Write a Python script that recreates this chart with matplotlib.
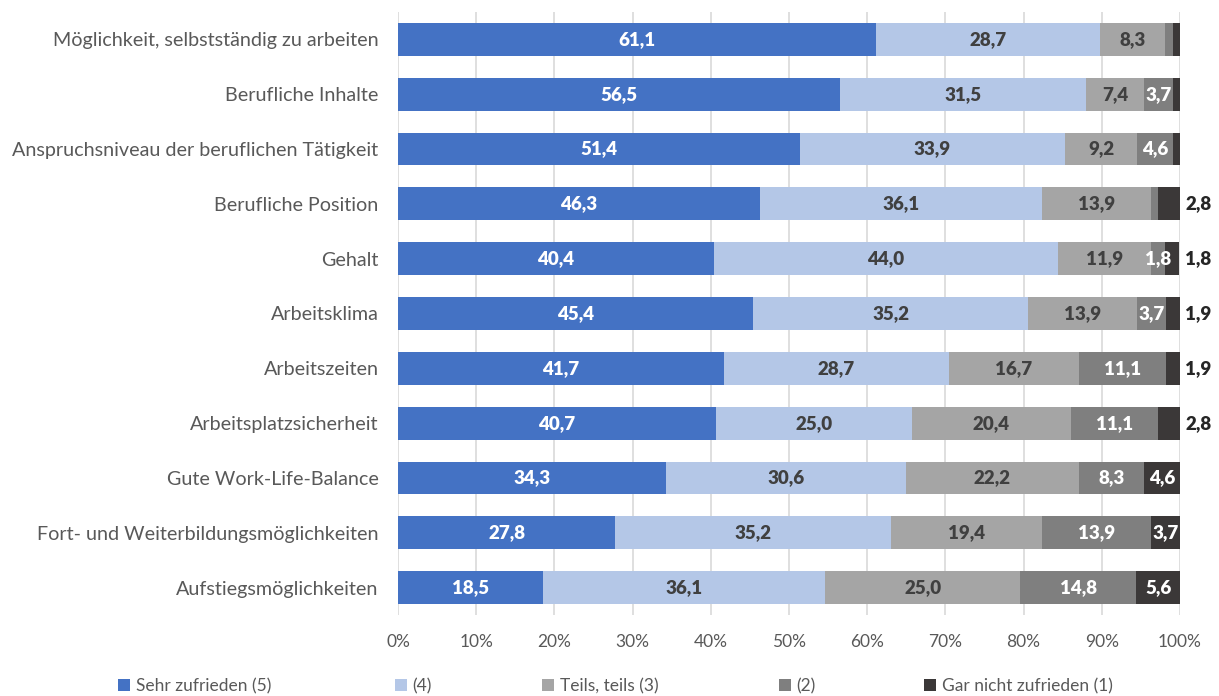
import matplotlib
matplotlib.use("Agg")
import matplotlib.pyplot as plt
import numpy as np

plt.rcParams["font.family"] = ["Lato", "DejaVu Sans"]

# categories top to bottom
categories = [
    "Möglichkeit, selbstständig zu arbeiten",
    "Berufliche Inhalte",
    "Anspruchsniveau der beruflichen Tätigkeit",
    "Berufliche Position",
    "Gehalt",
    "Arbeitsklima",
    "Arbeitszeiten",
    "Arbeitsplatzsicherheit",
    "Gute Work-Life-Balance",
    "Fort- und Weiterbildungsmöglichkeiten",
    "Aufstiegsmöglichkeiten",
]

sehr_zufrieden = [61.1, 56.5, 51.4, 46.3, 40.4, 45.4, 41.7, 40.7, 34.3, 27.8, 18.5]
stufe_4 = [28.7, 31.5, 33.9, 36.1, 44.0, 35.2, 28.7, 25.0, 30.6, 35.2, 36.1]
teils_teils = [8.3, 7.4, 9.2, 13.9, 11.9, 13.9, 16.7, 20.4, 22.2, 19.4, 25.0]
stufe_2 = [1.0, 3.7, 4.6, 0.9, 1.8, 3.7, 11.1, 11.1, 8.3, 13.9, 14.8]
gar_nicht = [0.9, 0.9, 0.9, 2.8, 1.8, 1.9, 1.9, 2.8, 4.6, 3.7, 5.6]

series_names = ["Sehr zufrieden (5)", "(4)", "Teils, teils (3)", "(2)", "Gar nicht zufrieden (1)"]
series = [sehr_zufrieden, stufe_4, teils_teils, stufe_2, gar_nicht]
colors = ["#4472C4", "#B4C7E7", "#A5A5A5", "#7F7F7F", "#3B3838"]
label_colors = ["white", "#404040", "#404040", "white", "white"]
# labels of series (1) that sit right of the bar
outside = [False, False, False, True, True, True, True, True, False, False, False]
legend_x = [110, 387, 534, 771, 916]

fig = plt.figure(figsize=(12.19, 6.96), dpi=100)
ax = fig.add_axes([398 / 1219, 81 / 696, 782 / 1219, 603 / 696])

y = np.arange(len(categories))
left = np.zeros(len(categories))
handles = []
for k, (vals, col) in enumerate(zip(series, colors)):
    vals = np.array(vals)
    bars = ax.barh(y, vals, left=left, height=0.6, color=col, label=series_names[k], zorder=3)
    handles.append(bars)
    for i, v in enumerate(vals):
        txt = f"{v:.1f}".replace(".", ",")
        if k == 4 and outside[i]:
            ax.text(100.7, i, txt, ha="left", va="center", fontsize=13.5,
                    fontweight="heavy", color="#262626", zorder=4)
        elif v >= 1.5:
            ax.text(left[i] + v / 2, i, txt, ha="center", va="center", fontsize=13.5,
                    fontweight="heavy", color=label_colors[k], zorder=4)
    left += vals

ax.set_xlim(0, 100)
ax.set_ylim(len(categories) - 0.5, -0.5)
ax.set_xticks(np.arange(0, 101, 10))
ax.set_xticklabels([f"{t}%" for t in range(0, 101, 10)])
ax.set_yticks(y)
ax.set_yticklabels(categories, fontsize=14.2)
ax.tick_params(axis="x", labelsize=12.5)
ax.tick_params(axis="both", length=0, colors="#595959")
ax.tick_params(axis="y", pad=14)
ax.tick_params(axis="x", pad=14)
ax.grid(axis="x", color="#D9D9D9", linewidth=1.2, zorder=0)
for s in ax.spines.values():
    s.set_visible(False)

for h, name, lx in zip(handles, series_names, legend_x):
    fig.legend(handles=[h], labels=[name], loc="center left",
               bbox_to_anchor=(lx / 1219 - 0.006, 1 - 686 / 696), frameon=False,
               fontsize=12.5, handlelength=0.7, handleheight=0.7, handletextpad=0.3,
               labelcolor="#595959")

fig.savefig("out.png", dpi=100)
